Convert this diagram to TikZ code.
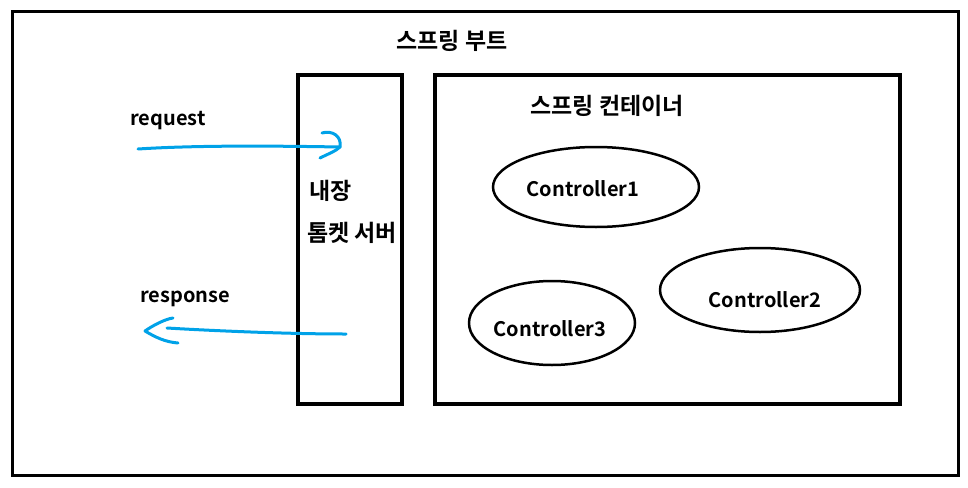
\documentclass[tikz,border=0pt]{standalone}
\usepackage{fontspec}
\setmainfont{Noto Sans CJK KR}[BoldFont={* Bold}]
\usetikzlibrary{shapes.geometric}
\definecolor{paintblue}{RGB}{0,162,232}
\tikzset{
  boxline/.style={draw=black, line width=4.5pt, inner sep=0pt},
  ctrl/.style={draw=black, ellipse, line width=2.5pt, inner sep=0pt},
  kor/.style={font=\fontsize{23}{27}\selectfont\bfseries, inner sep=0pt},
  lat/.style={font=\fontsize{20}{24}\selectfont\bfseries, inner sep=0pt},
  hand/.style={draw=paintblue, line width=3pt, line cap=round, line join=round},
}
\begin{document}
\begin{tikzpicture}[x=1pt, y=-1pt]
\useasboundingbox (0,0) rectangle (968,487);
\fill[white] (0,0) rectangle (968,487);
% outer frame
\node[draw=black, line width=3pt, minimum width=946pt, minimum height=463pt, inner sep=0pt] (boot) at (485,243.5) {};
\node[kor] (bootlbl) at (452,41) {스프링 부트};
% tomcat box
\node[boxline, minimum width=104pt, minimum height=329pt] (tomcat) at (350,239.5) {};
\node[kor, anchor=west] (tc1) at (309,191) {내장};
\node[kor, anchor=west] (tc2) at (307,233) {톰켓 서버};
% container box
\node[boxline, minimum width=465pt, minimum height=329pt] (cont) at (667.5,239.5) {};
\node[kor] (contlbl) at (607,106) {스프링 컨테이너};
% controllers
\node[ctrl, minimum width=206pt, minimum height=80pt] (c1) at (596,187) {};
\node[lat] (c1t) at (583,189) {Controller1};
\node[ctrl, minimum width=200pt, minimum height=84pt] (c2) at (760,290) {};
\node[lat] (c2t) at (765,300) {Controller2};
\node[ctrl, minimum width=166pt, minimum height=84pt] (c3) at (552,323) {};
\node[lat] (c3t) at (550,329) {Controller3};
% labels
\node[lat] (req) at (168,121) {request};
\node[lat] (resp) at (185,299) {response};
% request arrow (hand drawn)
\coordinate (reqs) at (138,149);
\coordinate (reqe) at (340,147);
\draw[hand] (reqs) .. controls (200,145) and (280,146) .. (reqe);
\draw[hand] (322,133) .. controls (332,130) and (342,136) .. (reqe) .. controls (336,151) and (328,154) .. (320,158);
% response arrow (hand drawn)
\coordinate (resps) at (346,334);
\coordinate (respe) at (145,331);
\draw[hand] (resps) .. controls (280,334) and (200,330) .. (167,328);
\draw[hand] (173,318) .. controls (165,319) and (152,326) .. (respe) .. controls (155,337) and (165,342) .. (178,343);
\end{tikzpicture}
\end{document}
